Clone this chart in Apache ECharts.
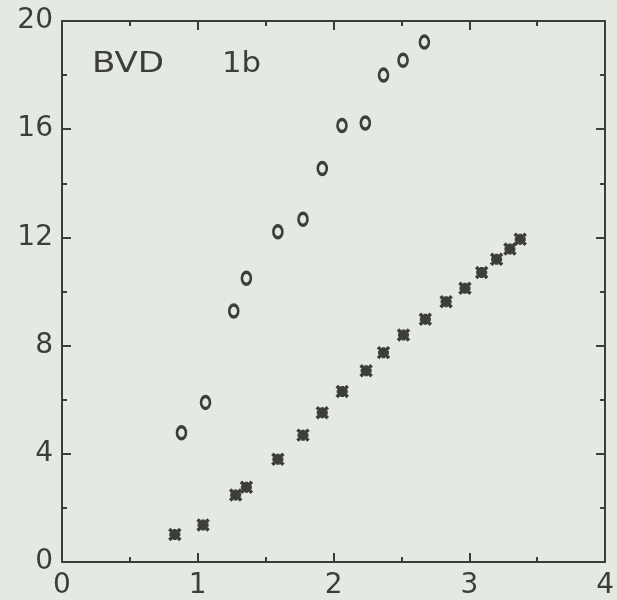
<!DOCTYPE html>
<html>
<head>
<meta charset="utf-8">
<script src="https://cdn.jsdelivr.net/npm/echarts@6/dist/echarts.min.js"></script>
<style>
  html, body { margin: 0; padding: 0; background: #e4e9e2; }
  #chart { width: 617px; height: 600px; }
</style>
</head>
<body>
<div id="chart"></div>
<script>
// Open markers ("o" series)
var circleX = [0.880, 1.057, 1.265, 1.358, 1.590, 1.775, 1.917, 2.062, 2.234, 2.368, 2.512, 2.669];
var circleY = [4.78, 5.90, 9.28, 10.49, 12.21, 12.67, 14.55, 16.14, 16.23, 18.00, 18.55, 19.22];

// Asterisk markers ("*" series)
var starX = [0.831, 1.039, 1.279, 1.358, 1.590, 1.775, 1.917, 2.064, 2.240, 2.368, 2.515, 2.676, 2.829, 2.968, 3.091, 3.201, 3.299, 3.375];
var starY = [1.02, 1.37, 2.48, 2.76, 3.80, 4.69, 5.52, 6.30, 7.07, 7.74, 8.39, 8.97, 9.62, 10.12, 10.70, 11.19, 11.57, 11.93];

var xTicks = [0, 1, 2, 3, 4];
var yTicks = [0, 4, 8, 12, 16, 20];
var titleLeft = 'BVD';
var titleRight = '1b';

var ink = '#3d3e3a';
var font = 'DejaVu Sans';

function pairs(xs, ys) {
  return xs.map(function (x, i) { return [x, ys[i]]; });
}

function axisBase(extra) {
  var a = {
    type: 'value',
    axisLine: { show: true, onZero: false, lineStyle: { color: ink, width: 2 } },
    axisTick: { show: true, inside: true, length: 9, lineStyle: { color: ink, width: 2 } },
    minorTick: { show: true, splitNumber: 2, length: 5, lineStyle: { color: ink, width: 2 } },
    splitLine: { show: false },
    axisLabel: { show: false }
  };
  for (var k in extra) a[k] = extra[k];
  return a;
}

var labelStyle = {
  show: true,
  color: ink,
  fontFamily: font,
  fontSize: 28,
  showMinLabel: true,
  showMaxLabel: true
};

var chart = echarts.init(document.getElementById('chart'), null, { renderer: 'canvas' });

chart.setOption({
  backgroundColor: '#e4e9e2',
  animation: false,
  grid: { left: 62, right: 11, top: 21, bottom: 38, containLabel: false },
  xAxis: [
    axisBase({
      position: 'bottom', min: xTicks[0], max: xTicks[xTicks.length - 1], interval: 1,
      axisLabel: Object.assign({}, labelStyle, { margin: 10 })
    }),
    axisBase({ position: 'top', min: xTicks[0], max: xTicks[xTicks.length - 1], interval: 1 })
  ],
  yAxis: [
    axisBase({
      position: 'left', min: yTicks[0], max: yTicks[yTicks.length - 1], interval: 4,
      axisLabel: Object.assign({}, labelStyle, { margin: 9 })
    }),
    axisBase({ position: 'right', min: yTicks[0], max: yTicks[yTicks.length - 1], interval: 4 })
  ],
  graphic: [
    {
      type: 'text', x: 92, y: 65, scaleX: 1.22,
      style: { text: titleLeft, fill: ink, font: '28px "DejaVu Sans"', verticalAlign: 'middle' }
    },
    {
      type: 'text', x: 222, y: 65, scaleX: 1.1,
      style: { text: titleRight, fill: ink, font: '28px "DejaVu Sans"', verticalAlign: 'middle' }
    }
  ],
  series: [
    {
      type: 'scatter',
      data: pairs(circleX, circleY),
      symbol: 'circle',
      symbolSize: [9, 12],
      itemStyle: { color: 'rgba(0,0,0,0)', borderColor: ink, borderWidth: 3, opacity: 1 }
    },
    {
      type: 'scatter',
      data: pairs(starX, starY),
      // eight-armed asterisk
      symbol: 'path://M-10,-10L10,10M-10,10L10,-10M0,-10L0,10M-10,0L10,0',
      symbolSize: 11,
      itemStyle: { color: 'rgba(0,0,0,0)', borderColor: ink, borderWidth: 3.5, opacity: 1 }
    }
  ]
});
</script>
</body>
</html>
